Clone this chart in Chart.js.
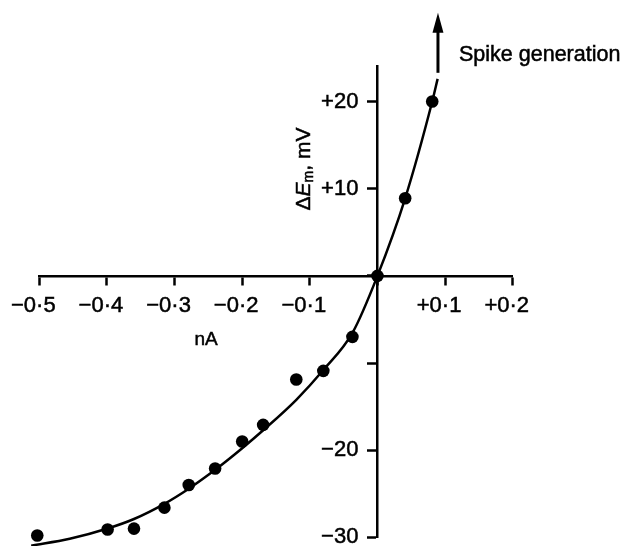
<!DOCTYPE html>
<html><head><meta charset="utf-8">
<script src="https://cdn.jsdelivr.net/npm/chart.js@4.4.0/dist/chart.umd.min.js"></script>
<style>html,body{margin:0;padding:0;background:#fff}#wrap{width:625px;height:546px}</style>
</head><body><div id="wrap"><canvas id="c" width="625" height="546"></canvas></div>
<script>
// Measured points: injected current (nA) vs change in membrane potential (mV)
const currentNA = [-0.503, -0.399, -0.360, -0.315, -0.279, -0.240, -0.200, -0.169, -0.120, -0.080, -0.037, 0, 0.041, 0.081];
const deltaEm   = [-29.8, -29.1, -29.0, -26.6, -24.0, -22.1, -19.0, -17.1, -11.9, -10.9, -7.0, 0, 8.9, 20.0];
// Fitted curve
const fitNA = [-0.512, -0.455, -0.399, -0.36, -0.315, -0.279, -0.24, -0.20, -0.169, -0.12, -0.08, -0.037, 0, 0.041, 0.081, 0.089];
const fitEm = [-30.96, -30.17, -28.99, -27.9, -26.16, -24.43, -22.26, -19.78, -17.72, -14.22, -10.81, -6.55, 0, 8.9, 20.0, 22.6];
// Axis ticks
const xTickValues = [-0.5, -0.4, -0.3, -0.2, -0.1, 0, 0.1, 0.2];
const xTickLabels = ['−0·5', '−0·4', '−0·3', '−0·2', '−0·1', '', '+0·1', '+0·2'];
const yTickValues = [-30, -20, -10, 0, 10, 20];
const yTickLabels = ['−30', '−20', '', '', '+10', '+20'];
// Spike-generation arrow (data coordinates)
const arrowNA = [0.0895, 0.0895];
const arrowEm = [23.3, 30.2];

const FONT = '"Liberation Sans", Arial, sans-serif';
const STROKE = 0.5;

function strokeFill(c, t, x, y) {
  c.fillText(t, x, y);
  c.strokeText(t, x, y);
}

const annot = {
  id: 'annot',
  beforeDraw(chart) {
    // y-axis labels sit left of the tick marks (gap like the reference)
    const items = chart.scales.y.getLabelItems();
    if (!items._shifted) {
      items.forEach(it => { it.options.translation[0] -= 19; });
      items._shifted = true;
    }
  },
  afterDatasetsDraw(chart) {
    const c = chart.ctx, x = chart.scales.x, y = chart.scales.y;
    c.save();
    c.fillStyle = '#000'; c.strokeStyle = '#000';
    // arrow
    const ax = x.getPixelForValue(arrowNA[0]);
    const yb = y.getPixelForValue(arrowEm[0]), yt = y.getPixelForValue(arrowEm[1]);
    c.lineWidth = 3;
    c.beginPath(); c.moveTo(ax, yb); c.lineTo(ax, yt + 15); c.stroke();
    c.beginPath(); c.moveTo(ax, yt); c.lineTo(ax - 5.5, yt + 20); c.lineTo(ax + 5.5, yt + 20); c.closePath(); c.fill();
    // annotation text
    c.lineWidth = STROKE;
    c.font = '21.5px ' + FONT; c.textAlign = 'left'; c.textBaseline = 'alphabetic';
    strokeFill(c, 'Spike generation', 459, 61);
    // x title
    c.font = '19px ' + FONT; c.textAlign = 'center';
    strokeFill(c, 'nA', 206, 345);
    // y title (rotated)
    const parts = [
      {t: 'Δ', f: '21px ' + FONT, dy: 0},
      {t: 'E', f: 'italic 21px ' + FONT, dy: 0},
      {t: 'm', f: '14px ' + FONT, dy: 3},
      {t: ', mV', f: '21px ' + FONT, dy: 0}
    ];
    let total = 0;
    parts.forEach(p => { c.font = p.f; p.w = c.measureText(p.t).width; total += p.w; });
    c.translate(310, 169);
    c.rotate(-Math.PI / 2);
    c.textAlign = 'left';
    let u = -total / 2;
    parts.forEach(p => { c.font = p.f; strokeFill(c, p.t, u, p.dy); u += p.w; });
    c.restore();
  }
};

const tickFont = {family: FONT, size: 22};

new Chart(document.getElementById('c'), {
  type: 'scatter',
  data: {
    datasets: [
      {
        data: fitNA.map((v, i) => ({x: v, y: fitEm[i]})),
        showLine: true, borderColor: '#000', borderWidth: 2.5, pointRadius: 0,
        cubicInterpolationMode: 'monotone', fill: false, clip: false
      },
      {
        data: currentNA.map((v, i) => ({x: v, y: deltaEm[i]})),
        showLine: false, pointRadius: 6.3, backgroundColor: '#000', borderWidth: 0, clip: false
      }
    ]
  },
  options: {
    responsive: false, animation: false,
    layout: {padding: {left: 39.3, right: 112.3, top: 66.7, bottom: 8.7}},
    plugins: {legend: {display: false}, tooltip: {enabled: false}},
    scales: {
      x: {
        type: 'linear', min: -0.5, max: 0.2, position: {y: 0},
        afterBuildTicks: s => { s.ticks = xTickValues.map(v => ({value: v})); },
        afterFit: s => { s.height = 0; s.paddingLeft = 0; s.paddingRight = 0; s.paddingTop = 0; s.paddingBottom = 0; },
        ticks: {callback: (v, i) => xTickLabels[i], font: tickFont, color: '#000', padding: 9, labelOffset: -6,
                maxRotation: 0, autoSkip: false, textStrokeColor: '#000', textStrokeWidth: STROKE},
        grid: {drawOnChartArea: false, drawTicks: true, tickLength: 8, tickWidth: 2.5, tickColor: '#000'},
        border: {display: true, color: '#000', width: 2.5}
      },
      y: {
        type: 'linear', min: -30, max: 24, position: {x: 0},
        afterBuildTicks: s => { s.ticks = yTickValues.map(v => ({value: v})); },
        afterFit: s => { s.width = 0; s.paddingLeft = 0; s.paddingRight = 0; s.paddingTop = 0; s.paddingBottom = 0; },
        ticks: {callback: (v, i) => yTickLabels[i], font: tickFont, color: '#000', padding: 10, autoSkip: false,
                textStrokeColor: '#000', textStrokeWidth: STROKE},
        grid: {drawOnChartArea: false, drawTicks: true, tickLength: 9, tickWidth: 2.5, tickColor: '#000'},
        border: {display: true, color: '#000', width: 2.5}
      }
    }
  },
  plugins: [annot]
});
</script>
</body></html>
